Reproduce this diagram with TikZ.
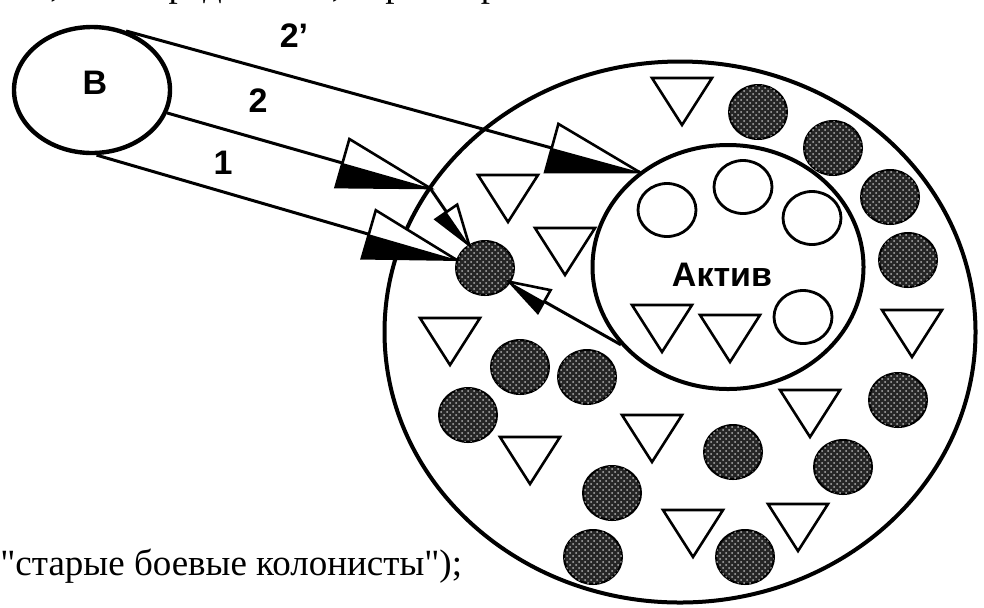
\documentclass[tikz,border=0pt]{standalone}
\usepackage{fontspec}
\setmainfont{Liberation Serif}
\setsansfont{Liberation Sans}
\usepackage{tikz}
\usetikzlibrary{shapes.geometric, calc, patterns}

% half black, half white arrow head: from, tip, length, half width, black side
\newcommand\halfhead[5]{%
  \coordinate (hb) at ($(#2)!#3!(#1)$);
  \coordinate (hw) at ($(hb)!#4!-#5:(#2)$);
  \coordinate (hk) at ($(hb)!#4!#5:(#2)$);
  \fill[white] (hw) -- (#2) -- (hk) -- cycle;
  \fill (hb) -- (hk) -- (#2) -- cycle;
  \draw[line width=1.3pt, line join=miter] (hw) -- (#2) -- (hk) -- cycle;
}

\begin{document}
\begin{tikzpicture}[x=0.5pt, y=-0.5pt,
    ring/.style={draw, ellipse, line width=2pt, inner sep=0pt},
    vet/.style={ellipse, draw, line width=1pt, fill=black!85,
                minimum width=29pt, minimum height=27pt, inner sep=0pt,
                postaction={pattern=crosshatch dots, pattern color=black!30}},
    act/.style={ellipse, draw, line width=1.4pt, minimum width=29pt,
                minimum height=26.5pt, inner sep=0pt},
    arr/.style={line width=1.5pt},
    num/.style={font=\sffamily\bfseries\fontsize{17}{20}\selectfont, inner sep=0pt},
    txt/.style={font=\fontsize{18.5}{22}\selectfont, inner sep=0pt},
    tri/.pic={\draw[line width=1.3pt, line join=miter] (-30,0) -- (30,0) -- (0,47) -- cycle;}
  ]
  \useasboundingbox (0,0) rectangle (984,607);
  \fill[white] (0,0) rectangle (984,607);
  \clip (0,0) rectangle (984,607);

  % page text
  \node[txt, anchor=base east] (ptop) at (797,-4) {ие, а опосредованно, через первичный коллектив.};
  \node[txt, anchor=base west] (pbot) at (0,575) {\textquotedbl старые боевые колонисты\textquotedbl);};

  % collective and its active core
  \node[ring, minimum width=295.5pt, minimum height=270.5pt] (kol) at (680,332) {};
  \node[ring, minimum width=135.5pt, minimum height=122pt] (akt) at (728,267) {};
  \node[num] (aktl) at (722,275) {Актив};
  \node[ring, line width=2.2pt, minimum width=78pt, minimum height=63pt] (B) at (92,90) {};
  \node[num] (Bl) at (95,83) {B};

  % members
  \foreach \x/\y [count=\i] in {758/112, 833/148, 890/197, 908/260, 898/400,
      843/467, 733/452, 745/557, 520/367, 587/377, 468/415, 612/493, 593/557}
    \node[vet] (v\i) at (\x,\y) {};
  \node[vet] (fc) at (485,268) {};
  \foreach \x/\y [count=\i] in {682/78, 508/175, 565/228, 450/318, 530/437,
      652/415, 810/390, 693/510, 798/504, 912/310, 662/305, 730/315}
    \pic (t\i) at (\x,\y) {tri};
  \foreach \x/\y [count=\i] in {667/210, 743/187, 812/218, 803/317}
    \node[act] (a\i) at (\x,\y) {};

  % ways of influence
  \coordinate (e2p) at (akt.133);
  \draw[arr] (B.60) -- (e2p);
  \halfhead{B.60}{e2p}{45.5pt}{12.5pt}{-90}
  \coordinate (e2) at (430,188);
  \coordinate (f2) at ($(fc)!14pt!(e2)$);
  \draw[arr] (B.343) -- (e2) -- (fc);
  \halfhead{B.343}{e2}{45.5pt}{12.5pt}{-90}
  \halfhead{e2}{f2}{20pt}{6.5pt}{-90}
  \coordinate (f1) at ($(fc)!15pt!(B.274)$);
  \draw[arr] (B.274) -- (f1);
  \halfhead{B.274}{f1}{45.5pt}{12.5pt}{-90}
  \coordinate (f3) at ($(fc)!14pt!(akt.216)$);
  \draw[arr] (akt.216) -- (fc);
  \halfhead{akt.216}{f3}{20pt}{6.5pt}{90}

  \node[num] (n2p) at (294,36) {2’};
  \node[num] (n2) at (258,101) {2};
  \node[num] (n1) at (223,163) {1};
\end{tikzpicture}
\end{document}
